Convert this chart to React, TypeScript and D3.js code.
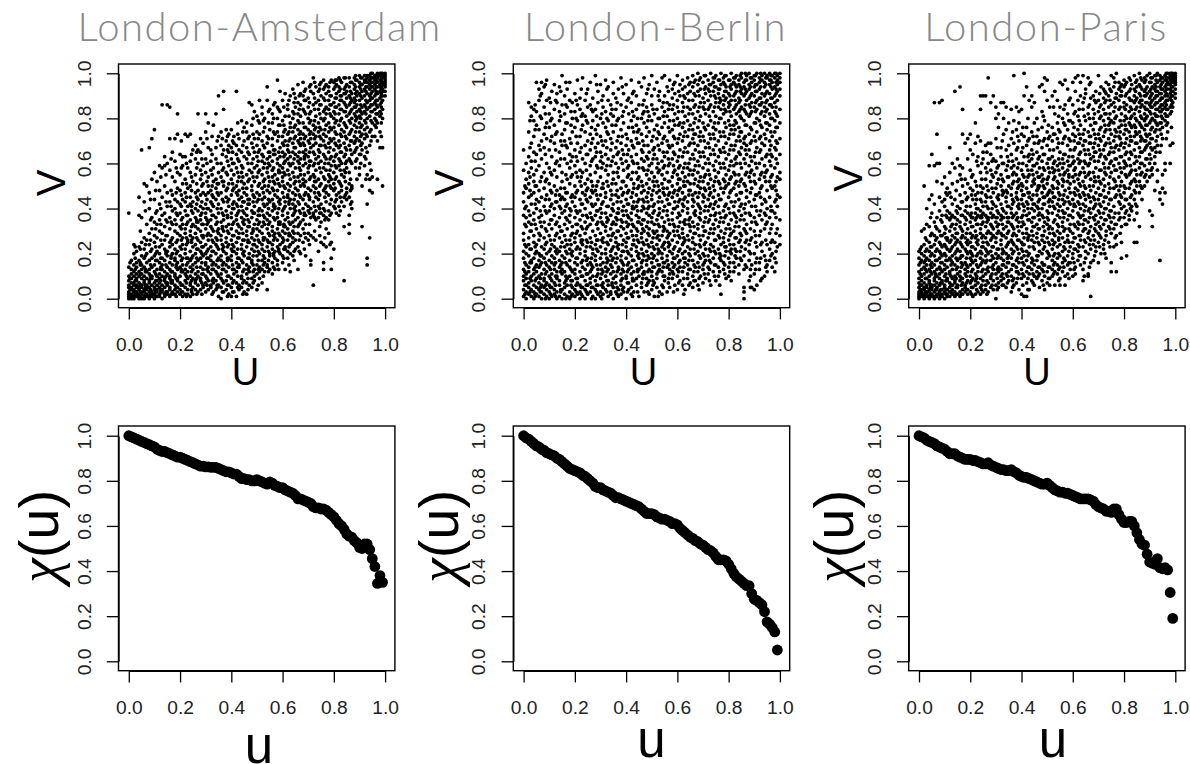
import * as React from 'react'
import * as d3 from 'd3'

const titles = ['London-Amsterdam', 'London-Berlin', 'London-Paris']
const tickValues = [0, 0.2, 0.4, 0.6, 0.8, 1]

// scatter points read by eye, column by column: [u in %, [v in %...]]
const amsterdamColumns: [number, number[]][] = [
  [0, [0, 1, 2, 3, 5, 6, 8, 10, 14, 38]], [1, [0, 1, 2, 4, 5, 7, 9, 11, 13, 17]],
  [2, [0, 1, 3, 4, 6, 7, 10, 12, 15, 20, 24]], [3, [1, 2, 3, 5, 6, 8, 9, 11, 14, 16, 21]],
  [4, [0, 1, 2, 4, 5, 7, 10, 12, 17, 23, 37, 45]], [5, [0, 2, 3, 5, 6, 9, 11, 13, 15, 19, 25, 36, 66]],
  [6, [0, 1, 3, 4, 7, 8, 10, 14, 18, 22, 27, 43, 51]], [7, [1, 2, 4, 5, 6, 9, 12, 16, 20, 26, 33, 50]],
  [8, [0, 1, 3, 5, 7, 8, 11, 13, 17, 24, 29, 40, 47, 67]], [9, [1, 2, 3, 6, 9, 10, 14, 18, 22, 31, 36, 53, 71]],
  [10, [0, 2, 4, 5, 7, 12, 15, 19, 25, 28, 34, 44, 56, 75]], [11, [1, 3, 4, 6, 8, 10, 13, 17, 21, 27, 33, 39, 52]],
  [12, [1, 2, 5, 7, 9, 11, 16, 20, 23, 30, 35, 42, 48, 59]], [13, [0, 3, 4, 6, 10, 13, 15, 18, 24, 29, 37, 45, 58, 86]],
  [14, [1, 2, 5, 8, 9, 12, 17, 22, 26, 32, 38, 50, 59, 63]], [15, [2, 3, 6, 7, 11, 14, 19, 21, 28, 34, 41, 47, 60, 86]],
  [16, [1, 4, 5, 9, 10, 13, 16, 23, 25, 31, 36, 43, 57, 71, 85]], [17, [2, 3, 7, 8, 12, 15, 20, 24, 27, 33, 39, 46, 54, 65]],
  [18, [2, 4, 6, 10, 11, 17, 18, 22, 30, 35, 40, 44, 52, 61, 71]], [19, [3, 5, 8, 9, 13, 16, 21, 26, 29, 37, 43, 49, 56, 73, 82]],
  [20, [2, 4, 7, 10, 14, 19, 23, 28, 32, 38, 42, 48, 55, 64]], [21, [1, 3, 6, 12, 15, 18, 24, 27, 33, 36, 44, 51, 59, 63]],
  [22, [2, 5, 8, 11, 13, 20, 22, 29, 31, 39, 43, 47, 53, 63, 73]], [23, [2, 4, 9, 12, 16, 18, 25, 26, 34, 37, 41, 49, 58, 72]],
  [24, [1, 6, 7, 10, 14, 17, 21, 28, 30, 35, 42, 45, 50, 56, 61, 73]], [25, [2, 5, 9, 13, 15, 19, 23, 27, 33, 38, 43, 52, 66]],
  [26, [4, 7, 8, 11, 16, 20, 24, 29, 32, 36, 40, 47, 55, 62, 68]], [27, [3, 6, 10, 12, 17, 22, 26, 31, 34, 39, 44, 48, 60, 66, 82]],
  [28, [4, 8, 9, 14, 18, 21, 25, 30, 35, 37, 41, 46, 53, 57, 65, 71]], [29, [5, 6, 11, 13, 19, 23, 27, 28, 33, 40, 47, 51, 59, 69]],
  [30, [3, 7, 10, 15, 16, 20, 24, 31, 36, 38, 42, 46, 56, 62, 74, 82]], [31, [4, 8, 12, 14, 18, 22, 26, 29, 34, 40, 47, 50, 54, 67, 78]],
  [32, [5, 6, 11, 17, 19, 23, 28, 32, 35, 39, 43, 48, 57, 61, 66]], [33, [3, 7, 9, 13, 16, 21, 25, 30, 37, 41, 45, 52, 58, 77]],
  [34, [4, 8, 12, 15, 20, 24, 27, 33, 36, 44, 49, 53, 62, 67, 82]], [35, [1, 6, 10, 14, 18, 22, 29, 31, 38, 42, 46, 51, 56, 72, 90]],
  [36, [0, 5, 9, 11, 17, 19, 26, 28, 34, 40, 47, 54, 60, 68, 74]], [37, [3, 7, 13, 16, 21, 23, 30, 35, 37, 43, 50, 52, 58, 66, 84, 92]],
  [38, [4, 8, 12, 15, 20, 25, 27, 32, 39, 45, 48, 56, 63, 70, 75]], [39, [2, 6, 10, 14, 18, 24, 29, 33, 41, 44, 51, 59, 65, 68, 73]],
  [40, [1, 5, 9, 17, 19, 22, 26, 31, 36, 38, 46, 53, 57, 62, 67, 75]], [41, [3, 8, 11, 13, 21, 23, 28, 34, 40, 43, 49, 55, 60, 69, 72]],
  [42, [1, 7, 12, 16, 20, 25, 30, 35, 37, 42, 47, 50, 58, 64, 68, 92]], [43, [4, 6, 14, 15, 18, 27, 29, 32, 39, 44, 48, 54, 61, 66, 71]],
  [44, [5, 9, 10, 17, 22, 24, 31, 36, 41, 45, 52, 56, 59, 65, 79]], [45, [3, 8, 13, 19, 21, 26, 33, 35, 38, 43, 47, 51, 63, 70, 76]],
  [46, [2, 7, 11, 15, 23, 28, 30, 37, 40, 46, 49, 55, 62, 67, 74, 78]], [47, [6, 12, 14, 18, 20, 25, 32, 34, 42, 44, 53, 57, 64, 72, 87]],
  [48, [5, 9, 16, 17, 22, 27, 29, 36, 39, 48, 50, 56, 60, 69, 77, 86]], [49, [8, 10, 13, 21, 24, 26, 33, 38, 41, 45, 52, 58, 65, 71, 83]],
  [50, [4, 11, 15, 19, 23, 28, 31, 35, 43, 47, 54, 59, 63, 68, 74, 81]], [51, [9, 12, 14, 20, 25, 30, 34, 37, 40, 46, 51, 57, 66, 73, 78, 88]],
  [52, [7, 13, 17, 22, 24, 29, 32, 39, 44, 49, 55, 61, 64, 70, 82, 85]], [53, [12, 16, 18, 21, 27, 33, 36, 41, 45, 50, 53, 60, 67, 76, 80]],
  [54, [4, 14, 15, 23, 26, 31, 35, 38, 42, 48, 56, 58, 62, 69, 72, 88, 94]], [55, [13, 19, 20, 25, 28, 34, 37, 43, 47, 52, 59, 63, 65, 75, 84]],
  [56, [11, 16, 22, 24, 30, 32, 39, 44, 49, 54, 57, 61, 68, 71, 78, 82]], [57, [13, 18, 21, 27, 29, 35, 40, 41, 46, 51, 55, 64, 66, 73, 87]],
  [58, [15, 17, 23, 26, 31, 36, 38, 45, 48, 53, 60, 62, 70, 74, 80, 85, 97]], [59, [20, 24, 28, 33, 34, 42, 44, 50, 56, 59, 63, 67, 77, 83, 92]],
  [60, [16, 19, 25, 27, 30, 37, 39, 47, 52, 54, 58, 65, 69, 72, 79, 88]], [61, [13, 22, 23, 29, 32, 35, 41, 43, 49, 55, 61, 64, 70, 75, 81, 91]],
  [62, [18, 21, 26, 31, 36, 38, 45, 46, 51, 57, 62, 66, 68, 73, 84, 86]], [63, [12, 20, 24, 28, 33, 40, 44, 50, 53, 59, 63, 71, 76, 78, 90]],
  [64, [19, 25, 27, 30, 34, 37, 42, 47, 56, 60, 65, 69, 74, 80, 83, 93]], [65, [22, 26, 35, 39, 41, 46, 49, 52, 58, 64, 67, 72, 77, 85, 89]],
  [66, [13, 23, 29, 32, 36, 43, 48, 54, 61, 63, 70, 75, 79, 82, 87, 95]], [67, [20, 28, 34, 38, 45, 50, 55, 57, 62, 68, 71, 74, 81, 86, 91]],
  [68, [25, 31, 35, 40, 44, 51, 53, 59, 65, 69, 73, 78, 84, 90, 96]], [69, [19, 27, 33, 37, 42, 47, 52, 60, 64, 66, 72, 76, 82, 88, 93]],
  [70, [26, 29, 39, 41, 46, 49, 56, 58, 63, 70, 75, 80, 85, 89]], [71, [15, 17, 28, 36, 40, 48, 54, 61, 67, 71, 74, 79, 83, 92, 95]],
  [72, [6, 27, 37, 38, 43, 50, 55, 59, 65, 68, 73, 77, 86, 91, 98]], [73, [26, 35, 39, 45, 49, 52, 57, 62, 69, 72, 76, 81, 87, 94]],
  [74, [21, 36, 41, 44, 47, 53, 60, 63, 66, 74, 78, 84, 88, 92]], [75, [25, 34, 38, 42, 51, 56, 61, 68, 71, 75, 80, 86, 90, 96]],
  [76, [13, 16, 24, 37, 40, 48, 54, 58, 64, 70, 73, 79, 83, 89, 93, 97]], [77, [23, 31, 36, 43, 47, 50, 57, 62, 67, 72, 77, 82, 85, 91, 95]],
  [78, [29, 35, 39, 46, 52, 55, 60, 65, 69, 74, 78, 84, 88, 92, 94]], [79, [13, 18, 25, 38, 44, 49, 53, 59, 63, 70, 75, 81, 86, 90, 97]],
  [80, [22, 41, 48, 51, 56, 61, 66, 71, 76, 80, 83, 87, 93, 96]], [81, [38, 44, 46, 54, 58, 64, 68, 73, 79, 85, 89, 91, 95, 97]],
  [82, [37, 41, 47, 52, 59, 62, 67, 70, 77, 82, 86, 92, 94, 98]], [83, [43, 48, 50, 55, 60, 65, 72, 75, 80, 84, 88, 90, 96]],
  [84, [8, 32, 41, 45, 54, 57, 63, 69, 74, 78, 83, 87, 91, 93, 98]], [85, [44, 47, 49, 58, 61, 66, 71, 76, 81, 85, 89, 92, 95]],
  [86, [29, 33, 37, 45, 51, 56, 62, 68, 73, 79, 82, 86, 90, 94, 98]], [87, [40, 43, 49, 50, 60, 64, 70, 75, 80, 84, 88, 91, 96]],
  [88, [65, 69, 72, 77, 82, 85, 87, 89, 93, 95, 98]], [89, [53, 62, 67, 71, 76, 80, 83, 86, 90, 92, 97]],
  [90, [55, 58, 64, 70, 74, 78, 81, 84, 88, 91, 94, 96, 99]], [91, [32, 50, 66, 69, 73, 77, 82, 85, 89, 92, 95, 98]],
  [92, [59, 63, 71, 75, 79, 83, 86, 90, 93, 96, 97, 99]], [93, [15, 18, 42, 55, 65, 72, 76, 80, 84, 87, 91, 94, 96, 98, 99]],
  [94, [27, 48, 53, 60, 68, 74, 81, 85, 88, 90, 93, 95, 97, 99]], [95, [47, 54, 72, 78, 83, 86, 89, 92, 94, 96, 98, 100]],
  [96, [72, 77, 80, 84, 87, 90, 93, 95, 97, 98, 99]], [97, [53, 70, 78, 82, 85, 88, 91, 94, 96, 98, 99, 100]],
  [98, [67, 74, 81, 83, 86, 89, 92, 94, 95, 97, 99, 100]], [99, [50, 67, 80, 84, 88, 90, 92, 93, 95, 96, 98, 99, 100]],
  [100, [90, 92, 94, 95, 96, 97, 98, 99, 100]],
]

// second pass over the same panel, filling the gaps between the columns above
const amsterdamExtra: [number, number[]][] = [
  [0.5, [1, 4, 9, 16]], [2.5, [2, 3, 8, 13, 18, 23]], [4.5, [1, 3, 6, 11, 15, 16, 22, 30]], [6.5, [2, 5, 6, 12, 13, 19, 24, 39]],
  [8.5, [2, 4, 9, 10, 15, 21, 26, 35, 44]], [10.5, [1, 3, 8, 11, 17, 20, 23, 31, 38, 48]], [12.5, [3, 4, 8, 13, 14, 18, 26, 33, 40, 54]],
  [14.5, [3, 7, 10, 15, 20, 21, 28, 35, 43, 55]], [16.5, [2, 7, 8, 12, 18, 19, 26, 34, 41, 48, 62]], [18.5, [1, 5, 9, 14, 15, 20, 25, 33, 38, 47, 58]],
  [20.5, [3, 6, 12, 13, 17, 22, 26, 31, 35, 41, 46, 58, 70]], [22.5, [1, 7, 10, 15, 18, 24, 27, 33, 37, 45, 51, 60]], [24.5, [3, 4, 8, 12, 18, 25, 26, 32, 39, 41, 48, 54, 64]],
  [26.5, [2, 9, 14, 18, 22, 27, 34, 35, 42, 45, 51, 58, 65]], [28.5, [2, 7, 11, 16, 20, 23, 28, 33, 38, 43, 50, 55, 62]], [30.5, [6, 9, 13, 18, 21, 28, 33, 35, 40, 44, 52, 60, 71]],
  [32.5, [2, 8, 13, 15, 21, 26, 31, 37, 42, 46, 50, 55, 64, 72]], [34.5, [5, 6, 11, 17, 23, 26, 30, 34, 40, 47, 51, 60, 70]], [36.5, [3, 8, 13, 15, 22, 24, 31, 32, 38, 44, 52, 57, 64, 71]],
  [38.5, [1, 6, 10, 17, 18, 23, 30, 36, 37, 43, 49, 55, 61, 66, 72]], [40.5, [3, 7, 13, 15, 21, 24, 28, 33, 40, 42, 48, 51, 60, 65, 70]], [42.5, [5, 10, 14, 18, 22, 27, 33, 38, 41, 46, 52, 56, 62, 73, 78]],
  [44.5, [2, 7, 12, 16, 20, 26, 29, 34, 39, 43, 49, 54, 58, 68, 74]], [46.5, [4, 9, 13, 18, 25, 26, 32, 35, 42, 44, 52, 60, 65, 71]], [48.5, [7, 12, 15, 19, 24, 30, 31, 38, 43, 46, 54, 62, 67, 73, 80]],
  [50.5, [6, 13, 17, 21, 26, 33, 37, 39, 44, 50, 56, 61, 65, 71, 79]], [52.5, [10, 15, 19, 26, 27, 34, 37, 42, 47, 52, 58, 63, 68, 74, 79]], [54.5, [12, 17, 21, 25, 29, 33, 40, 44, 50, 54, 60, 65, 71, 78, 83]],
  [56.5, [14, 19, 20, 26, 28, 36, 41, 42, 48, 52, 58, 64, 66, 74, 80, 86]], [58.5, [13, 21, 22, 29, 33, 34, 40, 43, 51, 56, 57, 65, 72, 77, 84]], [60.5, [18, 22, 26, 32, 33, 40, 45, 50, 56, 60, 63, 68, 74, 77, 85]],
  [62.5, [15, 23, 28, 29, 34, 42, 43, 48, 55, 60, 65, 70, 74, 81, 88]], [64.5, [17, 21, 29, 32, 38, 40, 44, 51, 54, 62, 67, 71, 76, 82, 87, 91]], [66.5, [21, 26, 33, 39, 42, 46, 52, 58, 60, 65, 69, 73, 78, 84, 90]],
  [68.5, [22, 29, 37, 38, 46, 50, 55, 62, 63, 68, 71, 76, 83, 88, 92]], [70.5, [24, 33, 38, 44, 45, 53, 59, 61, 65, 69, 73, 78, 82, 87, 94]], [72.5, [30, 36, 41, 47, 52, 54, 60, 64, 71, 75, 79, 84, 89, 96]],
  [74.5, [28, 32, 38, 40, 46, 50, 58, 65, 68, 72, 76, 82, 86, 93, 95]], [76.5, [27, 35, 39, 45, 49, 53, 60, 63, 68, 75, 80, 84, 88, 94]], [78.5, [24, 37, 42, 50, 54, 57, 62, 67, 71, 76, 82, 86, 90, 96]],
  [80.5, [40, 43, 49, 53, 59, 63, 69, 74, 78, 82, 85, 89, 94, 97]], [82.5, [39, 45, 51, 57, 61, 65, 68, 73, 79, 84, 88, 90, 93, 97]], [84.5, [46, 52, 56, 60, 64, 67, 72, 77, 83, 86, 91, 94, 98]],
  [86.5, [42, 48, 53, 61, 66, 70, 74, 78, 83, 87, 89, 92, 96]], [88.5, [58, 61, 66, 70, 74, 79, 81, 85, 88, 91, 94, 97, 99]], [90.5, [60, 64, 68, 72, 76, 80, 83, 86, 90, 93, 95, 98]],
  [92.5, [53, 62, 67, 73, 78, 82, 85, 88, 92, 94, 97, 99]], [94.5, [57, 70, 75, 79, 83, 86, 89, 91, 94, 96, 98, 100]], [96.5, [76, 79, 82, 86, 88, 91, 92, 94, 96, 97, 99]],
  [98.5, [72, 78, 82, 85, 87, 90, 91, 93, 94, 96, 97, 98, 100]],
]

const berlinColumns: [number, number[]][] = [
  [0, [1, 4, 8, 10, 13, 18, 21, 26, 29, 37, 43, 47, 57, 66]], [1, [0, 3, 6, 9, 11, 15, 20, 23, 32, 36, 41, 49, 53, 60]],
  [2, [2, 5, 7, 12, 14, 19, 24, 27, 34, 39, 45, 51, 56, 63, 74, 87]], [3, [1, 4, 8, 10, 16, 17, 22, 30, 33, 42, 46, 58, 61, 69, 81, 85]],
  [4, [0, 3, 6, 11, 13, 18, 25, 28, 35, 38, 47, 52, 55, 65, 72, 79, 84]], [5, [2, 5, 9, 12, 15, 21, 24, 31, 40, 44, 50, 57, 64, 77, 83, 96]],
  [6, [1, 4, 7, 10, 14, 17, 20, 26, 29, 36, 43, 48, 59, 68, 75, 88, 93]], [7, [0, 3, 6, 11, 16, 19, 23, 32, 37, 45, 54, 62, 70, 80, 91, 96]],
  [8, [2, 5, 8, 9, 13, 18, 22, 27, 34, 41, 49, 56, 67, 73, 85, 94]], [9, [1, 4, 7, 12, 15, 20, 25, 30, 38, 46, 53, 60, 71, 78, 88, 97]],
  [10, [0, 3, 6, 10, 14, 17, 21, 28, 33, 39, 44, 51, 58, 66, 76, 82, 89]], [11, [1, 5, 8, 11, 16, 19, 24, 31, 35, 42, 47, 55, 63, 72, 80, 92]],
  [12, [2, 4, 7, 13, 15, 18, 23, 26, 37, 40, 50, 57, 69, 77, 84, 95]], [13, [0, 3, 9, 10, 12, 20, 22, 29, 34, 43, 48, 54, 61, 74, 87, 91]],
  [14, [1, 6, 8, 14, 17, 21, 27, 32, 36, 41, 46, 59, 65, 79, 83, 94]], [15, [0, 4, 11, 13, 16, 19, 25, 30, 38, 45, 52, 56, 68, 73, 86, 99]],
  [16, [2, 5, 7, 12, 18, 23, 28, 33, 39, 44, 49, 62, 70, 75, 82, 90]], [17, [1, 6, 9, 15, 20, 24, 31, 35, 42, 47, 53, 60, 67, 78, 85, 93]],
  [18, [0, 3, 10, 14, 17, 22, 26, 34, 37, 40, 51, 58, 64, 71, 88, 96]], [19, [2, 5, 8, 12, 19, 21, 29, 32, 43, 46, 55, 63, 74, 80, 87]],
  [20, [1, 4, 11, 13, 16, 25, 27, 36, 41, 45, 50, 59, 66, 76, 83, 91]], [21, [2, 7, 9, 15, 18, 23, 30, 33, 38, 48, 54, 61, 69, 79, 86, 97]],
  [22, [0, 3, 6, 12, 20, 22, 28, 35, 39, 44, 52, 57, 65, 72, 84, 89]], [23, [1, 5, 10, 14, 17, 24, 26, 31, 37, 42, 47, 56, 62, 77, 82, 98]],
  [24, [0, 4, 8, 13, 19, 21, 29, 34, 40, 46, 51, 60, 68, 74, 81, 88]], [25, [2, 6, 11, 15, 18, 25, 32, 36, 43, 49, 53, 64, 70, 78, 85, 93]],
  [26, [3, 7, 9, 12, 16, 23, 27, 33, 38, 45, 55, 59, 66, 73, 86, 96]], [27, [1, 5, 10, 14, 20, 22, 30, 35, 41, 47, 50, 62, 71, 79, 83, 89]],
  [28, [0, 4, 8, 17, 19, 24, 28, 37, 42, 48, 56, 63, 67, 75, 84, 99]], [29, [2, 6, 11, 13, 21, 26, 31, 34, 39, 44, 52, 58, 69, 77, 87, 92]],
  [30, [1, 3, 9, 15, 18, 23, 29, 36, 40, 46, 54, 61, 65, 72, 80, 95]], [31, [2, 5, 7, 12, 16, 25, 27, 33, 43, 49, 51, 60, 68, 78, 85, 90]],
  [32, [4, 10, 14, 20, 22, 30, 32, 38, 45, 47, 57, 64, 70, 76, 83, 97]], [33, [1, 6, 8, 13, 17, 24, 28, 35, 41, 50, 55, 62, 73, 79, 88, 94]],
  [34, [2, 3, 11, 15, 19, 21, 26, 31, 37, 44, 48, 59, 66, 71, 82, 86]], [35, [0, 5, 9, 12, 18, 23, 29, 34, 39, 42, 53, 56, 63, 74, 81, 91, 96]],
  [36, [3, 7, 10, 16, 20, 25, 27, 33, 36, 46, 51, 60, 67, 77, 84, 89]], [37, [1, 4, 13, 14, 22, 24, 30, 38, 40, 45, 54, 58, 65, 72, 80, 93]],
  [38, [2, 6, 8, 11, 17, 19, 28, 32, 35, 43, 49, 62, 69, 75, 86, 98]], [39, [3, 5, 12, 15, 21, 26, 31, 37, 41, 47, 52, 57, 64, 78, 83, 91]],
  [40, [0, 9, 10, 18, 23, 25, 29, 34, 39, 44, 50, 61, 68, 73, 85, 95]], [41, [4, 7, 13, 16, 20, 27, 33, 36, 42, 48, 55, 59, 66, 76, 82, 89]],
  [42, [2, 5, 11, 14, 19, 22, 30, 35, 38, 45, 53, 63, 70, 79, 87, 97]], [43, [3, 8, 12, 17, 24, 26, 32, 40, 43, 49, 51, 60, 67, 74, 81, 92]],
  [44, [6, 9, 15, 21, 23, 28, 31, 37, 41, 46, 56, 64, 71, 77, 84, 90]], [45, [1, 10, 13, 18, 20, 25, 34, 36, 44, 50, 54, 58, 69, 75, 86, 96]],
  [46, [5, 7, 14, 16, 22, 27, 29, 33, 39, 47, 52, 62, 66, 73, 80, 94]], [47, [3, 11, 12, 19, 24, 30, 35, 40, 43, 48, 57, 61, 68, 78, 83, 88, 98]],
  [48, [6, 9, 15, 17, 21, 26, 32, 38, 45, 51, 55, 63, 72, 76, 85, 91]], [49, [2, 8, 13, 18, 23, 28, 31, 37, 41, 49, 53, 59, 65, 74, 81, 95]],
  [50, [4, 10, 12, 16, 20, 25, 34, 36, 44, 46, 56, 60, 70, 79, 86, 90, 99]], [51, [1, 7, 14, 19, 22, 29, 33, 39, 42, 50, 54, 64, 67, 75, 82, 93]],
  [52, [5, 9, 11, 17, 24, 27, 30, 35, 47, 52, 58, 62, 71, 77, 84, 96]], [53, [3, 13, 15, 21, 26, 32, 38, 40, 45, 48, 57, 66, 73, 80, 88, 92]],
  [54, [2, 6, 12, 18, 20, 23, 28, 36, 43, 51, 55, 61, 69, 76, 85, 98]], [55, [8, 10, 16, 22, 25, 31, 34, 41, 46, 53, 59, 63, 72, 78, 83, 90, 99]],
  [56, [3, 14, 17, 19, 27, 30, 37, 39, 44, 49, 56, 65, 70, 81, 87, 94]], [57, [5, 11, 13, 21, 24, 29, 33, 42, 47, 52, 60, 67, 74, 79, 86, 97]],
  [58, [9, 12, 16, 20, 26, 35, 38, 45, 50, 54, 62, 68, 75, 84, 89, 93]], [59, [6, 15, 18, 23, 28, 32, 40, 43, 48, 57, 64, 71, 77, 82, 91, 96]],
  [60, [4, 10, 13, 19, 25, 30, 36, 41, 46, 51, 55, 61, 69, 80, 85, 88, 99]], [61, [8, 14, 17, 22, 27, 34, 37, 44, 49, 53, 59, 66, 73, 78, 90, 95]],
  [62, [6, 12, 20, 24, 29, 31, 39, 42, 47, 56, 63, 70, 76, 83, 87, 93, 97]], [63, [4, 16, 18, 21, 26, 33, 35, 45, 50, 54, 60, 67, 74, 81, 89, 94]],
  [64, [9, 11, 15, 23, 28, 38, 40, 43, 52, 58, 65, 72, 79, 85, 91, 98]], [65, [7, 13, 19, 22, 30, 32, 36, 48, 51, 57, 62, 69, 77, 84, 92, 96]],
  [66, [5, 10, 17, 25, 27, 34, 41, 44, 46, 55, 64, 71, 75, 82, 88, 94, 99]], [67, [8, 14, 20, 24, 29, 37, 39, 47, 53, 59, 66, 73, 80, 86, 90, 97]],
  [68, [6, 12, 16, 21, 31, 33, 42, 45, 50, 56, 61, 68, 76, 83, 92, 95, 100]], [69, [10, 18, 23, 26, 35, 38, 40, 49, 54, 63, 70, 74, 81, 87, 93, 98]],
  [70, [7, 13, 15, 20, 28, 32, 43, 46, 52, 58, 65, 72, 78, 85, 89, 96]], [71, [9, 17, 22, 25, 30, 36, 41, 48, 55, 60, 67, 75, 82, 91, 94, 99]],
  [72, [11, 14, 19, 27, 34, 39, 44, 51, 57, 62, 69, 77, 84, 88, 93, 97]], [73, [6, 16, 21, 24, 31, 37, 42, 47, 53, 64, 71, 79, 86, 90, 95, 100]],
  [74, [12, 18, 23, 29, 33, 40, 45, 50, 59, 66, 73, 76, 83, 92, 96, 98]], [75, [8, 15, 20, 26, 35, 38, 43, 54, 61, 68, 75, 81, 87, 89, 94, 99]],
  [76, [10, 14, 22, 28, 32, 41, 46, 52, 56, 63, 70, 78, 85, 91, 93, 97]], [77, [2, 17, 19, 24, 30, 36, 44, 49, 58, 65, 72, 80, 84, 88, 95, 100]],
  [78, [13, 16, 25, 27, 34, 39, 47, 53, 60, 67, 74, 82, 86, 90, 96, 98]], [79, [9, 21, 23, 31, 37, 42, 50, 55, 62, 69, 76, 83, 89, 92, 94, 99]],
  [80, [10, 14, 18, 26, 33, 40, 45, 51, 57, 64, 71, 79, 85, 87, 91, 97]], [81, [8, 20, 22, 29, 35, 43, 48, 54, 61, 68, 75, 81, 88, 93, 95, 100]],
  [82, [12, 16, 24, 30, 38, 41, 49, 56, 59, 66, 73, 77, 84, 90, 96, 98]], [83, [18, 21, 27, 34, 36, 46, 52, 60, 63, 70, 78, 82, 86, 92, 94, 99]],
  [84, [11, 15, 25, 32, 39, 44, 50, 55, 65, 72, 76, 83, 87, 89, 95, 97]], [85, [17, 23, 28, 37, 42, 47, 53, 58, 67, 74, 80, 85, 91, 93, 98, 100]],
  [86, [0, 3, 5, 13, 19, 31, 35, 40, 51, 62, 69, 71, 79, 84, 90, 94, 96]], [87, [14, 26, 29, 33, 45, 48, 56, 64, 68, 77, 82, 88, 92, 97, 99]],
  [88, [8, 17, 21, 24, 38, 43, 54, 59, 66, 73, 81, 86, 89, 93, 95, 100]], [89, [5, 15, 27, 34, 41, 49, 57, 61, 70, 75, 83, 87, 91, 96, 98]],
  [90, [4, 11, 20, 30, 36, 44, 52, 55, 63, 72, 78, 85, 90, 94, 97, 99]], [91, [6, 18, 23, 33, 39, 46, 58, 67, 74, 80, 84, 88, 92, 95, 100]],
  [92, [13, 16, 28, 37, 47, 53, 60, 65, 71, 79, 86, 89, 93, 96, 98]], [93, [9, 21, 25, 35, 42, 50, 56, 62, 69, 76, 83, 87, 91, 97, 99]],
  [94, [10, 19, 31, 38, 44, 54, 59, 68, 73, 81, 85, 90, 94, 96, 100]], [95, [12, 15, 24, 34, 40, 48, 57, 64, 75, 78, 84, 88, 92, 98, 99]],
  [96, [17, 22, 29, 36, 45, 52, 61, 66, 70, 77, 82, 86, 91, 95, 97, 100]], [97, [14, 20, 26, 33, 39, 49, 55, 63, 72, 80, 85, 89, 93, 96, 99]],
  [98, [12, 18, 25, 38, 43, 50, 58, 67, 74, 79, 83, 87, 90, 94, 98, 100]], [99, [23, 31, 41, 46, 54, 60, 69, 76, 81, 88, 92, 95, 97, 99]],
  [100, [24, 28, 35, 45, 53, 56, 64, 71, 78, 84, 90, 93, 96, 98, 100]],
]

const berlinExtra: [number, number[]][] = [
  [0.5, [2, 6, 12, 16, 24, 33, 40, 50]], [2.5, [3, 9, 16, 22, 30, 37, 48, 54, 67, 79]], [4.5, [1, 2, 8, 14, 20, 23, 33, 42, 50, 61, 75, 86]],
  [6.5, [3, 5, 9, 15, 19, 28, 34, 39, 52, 66, 81, 90]], [8.5, [0, 6, 11, 16, 24, 31, 39, 44, 52, 64, 76, 82, 95]], [10.5, [2, 5, 9, 13, 22, 26, 35, 41, 48, 56, 70, 79, 87]],
  [12.5, [1, 6, 10, 16, 21, 28, 33, 43, 46, 60, 66, 73, 88]], [14.5, [3, 4, 12, 15, 23, 30, 40, 44, 49, 62, 70, 81, 92]], [16.5, [0, 8, 10, 16, 21, 26, 36, 41, 47, 55, 68, 78, 86, 96]],
  [18.5, [1, 6, 8, 13, 20, 24, 28, 39, 45, 54, 61, 69, 77, 83]], [20.5, [3, 6, 9, 18, 22, 29, 33, 39, 47, 56, 63, 72, 80, 88]], [22.5, [2, 5, 10, 16, 25, 26, 32, 42, 50, 54, 67, 75, 81, 93]],
  [24.5, [3, 6, 11, 17, 23, 26, 31, 37, 44, 48, 57, 64, 79, 91]], [26.5, [0, 5, 13, 15, 18, 25, 36, 42, 48, 52, 61, 69, 76, 84]], [28.5, [3, 6, 10, 15, 22, 26, 33, 39, 46, 50, 59, 65, 73, 81, 95]],
  [30.5, [0, 6, 11, 13, 20, 26, 34, 38, 42, 49, 58, 63, 70, 82, 88]], [32.5, [3, 8, 12, 16, 18, 25, 34, 36, 41, 52, 59, 67, 74, 80, 93]], [34.5, [6, 7, 14, 17, 22, 28, 33, 40, 46, 51, 61, 69, 77, 84]],
  [36.5, [2, 5, 12, 18, 23, 30, 35, 38, 43, 48, 56, 64, 70, 79, 87]], [38.5, [4, 9, 13, 16, 21, 24, 34, 39, 46, 52, 60, 66, 72, 81, 94]], [40.5, [3, 7, 12, 15, 21, 27, 32, 37, 42, 47, 54, 58, 64, 71, 88]],
  [42.5, [1, 8, 9, 17, 24, 28, 33, 40, 41, 47, 56, 61, 68, 76, 83, 91]], [44.5, [3, 12, 13, 19, 26, 30, 34, 39, 43, 49, 53, 60, 69, 74, 80]], [46.5, [9, 11, 17, 20, 25, 31, 35, 41, 44, 50, 58, 65, 70, 82, 86]],
  [48.5, [3, 7, 12, 19, 24, 29, 34, 40, 43, 47, 57, 62, 68, 79, 83, 93]], [50.5, [6, 8, 14, 18, 23, 27, 30, 38, 41, 48, 52, 62, 66, 72, 84]], [52.5, [1, 12, 15, 20, 22, 28, 33, 37, 43, 50, 56, 60, 68, 74, 80, 90]],
  [54.5, [5, 10, 14, 16, 24, 30, 32, 39, 47, 49, 58, 65, 71, 81, 87]], [56.5, [7, 9, 15, 23, 25, 28, 35, 42, 46, 52, 59, 62, 68, 76, 84, 92]], [58.5, [3, 11, 14, 18, 22, 30, 33, 40, 47, 56, 59, 65, 72, 79, 86, 95]],
  [60.5, [7, 12, 16, 21, 28, 32, 38, 43, 48, 53, 58, 63, 71, 77, 83, 92]], [62.5, [2, 9, 14, 18, 25, 27, 34, 41, 44, 50, 52, 58, 65, 72, 78, 85, 90]], [64.5, [6, 13, 17, 20, 26, 33, 35, 46, 48, 55, 60, 68, 75, 82, 88, 95]],
  [66.5, [8, 12, 15, 22, 29, 32, 38, 43, 51, 57, 62, 69, 73, 78, 85, 91, 96]], [68.5, [4, 9, 14, 19, 24, 28, 36, 41, 47, 52, 59, 65, 72, 79, 85, 90, 97]], [70.5, [11, 16, 19, 24, 30, 34, 39, 45, 49, 54, 63, 70, 76, 84, 87, 93, 99]],
  [72.5, [8, 13, 17, 22, 29, 35, 41, 46, 49, 55, 60, 67, 73, 81, 85, 92, 95]], [74.5, [10, 15, 21, 26, 31, 37, 42, 48, 52, 57, 64, 71, 78, 85, 90, 94, 98]], [76.5, [6, 12, 18, 20, 27, 34, 38, 44, 51, 60, 66, 74, 80, 87, 89, 93, 97]],
  [78.5, [11, 15, 19, 23, 29, 36, 41, 49, 52, 58, 65, 72, 78, 84, 88, 92, 95, 99]], [80.5, [12, 16, 21, 24, 28, 31, 38, 47, 53, 59, 66, 73, 77, 83, 86, 90, 94, 97]], [82.5, [14, 19, 22, 27, 32, 37, 43, 51, 55, 62, 68, 75, 79, 85, 88, 91, 95, 98]],
  [84.5, [18, 21, 26, 29, 35, 41, 47, 52, 60, 64, 70, 74, 81, 84, 88, 92, 94, 99]], [86.5, [15, 22, 25, 30, 38, 42, 50, 55, 60, 66, 72, 77, 83, 86, 91, 93, 97, 100]], [88.5, [5, 10, 13, 20, 26, 31, 37, 47, 52, 56, 63, 69, 76, 82, 85, 90, 94, 98]],
  [90.5, [13, 16, 25, 28, 34, 41, 46, 51, 60, 65, 70, 78, 83, 87, 92, 95, 99]], [92.5, [8, 18, 24, 30, 39, 45, 49, 55, 66, 72, 77, 82, 86, 89, 94, 97, 100]], [94.5, [14, 17, 26, 33, 37, 43, 52, 56, 63, 71, 78, 83, 87, 91, 95, 98]],
  [96.5, [19, 25, 31, 39, 41, 50, 54, 59, 64, 68, 74, 80, 86, 89, 94, 97, 99]], [98.5, [16, 21, 29, 36, 44, 48, 52, 62, 66, 70, 76, 82, 85, 91, 93, 96, 100]],
]

const parisColumns: [number, number[]][] = [
  [0, [0, 1, 2, 3, 5, 7, 9, 12, 15, 18, 21]], [1, [1, 2, 3, 4, 6, 8, 10, 13, 17, 20, 23, 30]],
  [2, [0, 1, 2, 4, 5, 7, 11, 14, 16, 19, 24, 31, 50]], [3, [1, 2, 3, 5, 6, 9, 12, 15, 18, 22, 26, 33, 40]],
  [4, [0, 1, 3, 4, 7, 8, 10, 13, 17, 21, 25, 32, 44, 59]], [5, [1, 2, 4, 5, 6, 11, 14, 16, 20, 23, 29, 38, 46, 64]],
  [6, [0, 1, 3, 6, 8, 9, 12, 15, 19, 24, 28, 34, 42, 59, 87]], [7, [1, 2, 4, 5, 7, 10, 13, 17, 22, 27, 31, 36, 52, 60, 73]],
  [8, [0, 2, 3, 6, 9, 11, 14, 18, 21, 25, 30, 39, 45, 60, 87]], [9, [1, 2, 4, 7, 8, 12, 16, 19, 23, 28, 34, 37, 43, 51, 88]],
  [10, [0, 3, 5, 6, 10, 13, 15, 20, 24, 29, 32, 41, 44, 54]], [11, [1, 2, 4, 8, 9, 14, 17, 22, 26, 27, 36, 39, 46, 49]],
  [12, [1, 3, 5, 7, 11, 12, 18, 21, 25, 30, 35, 38, 47, 56, 67]], [13, [2, 4, 6, 9, 13, 16, 19, 23, 28, 33, 37, 42, 51, 60]],
  [14, [1, 3, 7, 8, 10, 15, 20, 24, 27, 31, 36, 44, 58, 92]], [15, [2, 5, 6, 11, 14, 17, 22, 26, 29, 35, 38, 41, 52, 62]],
  [16, [1, 3, 8, 10, 12, 18, 21, 25, 32, 34, 40, 46, 55, 59, 94]], [17, [2, 4, 7, 9, 15, 19, 23, 28, 30, 37, 43, 50, 58, 73, 84]],
  [18, [3, 5, 6, 11, 13, 16, 22, 27, 33, 36, 39, 47, 53, 69]], [19, [2, 4, 8, 12, 14, 20, 24, 26, 31, 38, 45, 51, 62, 71]],
  [20, [3, 7, 10, 15, 18, 21, 25, 29, 34, 37, 41, 49, 57, 66, 73]], [21, [1, 5, 9, 13, 16, 19, 23, 28, 32, 36, 44, 48, 55, 64]],
  [22, [2, 6, 8, 11, 17, 22, 27, 30, 35, 38, 42, 46, 52, 69, 78]], [23, [3, 7, 12, 14, 20, 24, 26, 33, 37, 40, 47, 59, 63, 72]],
  [24, [2, 5, 9, 15, 18, 21, 29, 31, 36, 39, 44, 50, 56, 70, 84, 90]], [25, [3, 8, 10, 13, 17, 23, 25, 28, 34, 38, 41, 49, 62, 65, 90]],
  [26, [4, 6, 11, 16, 19, 22, 27, 32, 37, 43, 46, 53, 58, 68, 90]], [27, [3, 7, 12, 14, 20, 24, 30, 35, 36, 40, 48, 60, 69, 98]],
  [28, [5, 9, 10, 17, 21, 26, 29, 33, 38, 45, 52, 57, 64, 69, 87]], [29, [4, 8, 13, 15, 18, 23, 28, 31, 37, 42, 47, 54, 62, 90]],
  [30, [0, 6, 11, 16, 20, 25, 27, 34, 36, 41, 49, 56, 61, 71, 80, 85]], [31, [5, 7, 12, 14, 19, 22, 30, 33, 38, 44, 46, 53, 59, 76, 82]],
  [32, [8, 10, 13, 18, 24, 26, 29, 35, 37, 42, 50, 55, 63, 67, 87]], [33, [6, 9, 15, 17, 21, 28, 31, 36, 39, 47, 52, 60, 73, 80, 87]],
  [34, [5, 11, 14, 20, 23, 27, 32, 38, 43, 45, 48, 57, 66, 75, 85]], [35, [8, 12, 16, 19, 25, 30, 34, 36, 41, 50, 54, 61, 68, 78]],
  [36, [3, 10, 13, 18, 22, 26, 33, 38, 40, 46, 49, 58, 64, 71, 84]], [37, [6, 9, 15, 21, 24, 29, 31, 37, 43, 52, 56, 59, 69, 79, 99]],
  [38, [7, 12, 14, 17, 23, 28, 35, 38, 45, 47, 55, 62, 66, 75, 85]], [39, [4, 11, 16, 20, 26, 30, 34, 40, 42, 50, 53, 60, 70, 78, 83]],
  [40, [2, 9, 13, 18, 22, 25, 32, 36, 44, 48, 51, 57, 65, 73, 84]], [41, [1, 10, 15, 19, 24, 27, 33, 39, 41, 46, 54, 63, 72, 90, 100]],
  [42, [1, 7, 12, 17, 21, 29, 31, 37, 43, 49, 52, 59, 68, 76, 94]], [43, [4, 11, 14, 20, 23, 28, 35, 38, 45, 47, 55, 61, 64, 71, 88]],
  [44, [8, 13, 16, 18, 26, 30, 34, 40, 44, 50, 57, 62, 66, 74, 85, 90]], [45, [6, 10, 15, 22, 25, 32, 36, 39, 42, 51, 53, 59, 69, 78, 87]],
  [46, [9, 12, 17, 19, 27, 29, 33, 41, 46, 48, 56, 60, 65, 72, 80]], [47, [5, 11, 14, 21, 24, 31, 35, 38, 44, 50, 54, 58, 63, 70, 94]],
  [48, [8, 13, 16, 20, 26, 28, 37, 40, 47, 52, 55, 61, 67, 76, 83, 95]], [49, [4, 10, 15, 23, 25, 30, 34, 42, 45, 49, 57, 64, 71, 79, 92, 98]],
  [50, [7, 12, 18, 21, 27, 33, 36, 39, 46, 51, 53, 60, 68, 74, 88, 97]], [51, [6, 9, 14, 19, 24, 29, 32, 41, 44, 48, 56, 62, 66, 72, 85]],
  [52, [10, 13, 17, 22, 26, 31, 38, 43, 47, 50, 58, 63, 70, 76, 90]], [53, [6, 12, 16, 20, 25, 28, 35, 40, 45, 54, 57, 61, 73, 82, 92]],
  [54, [11, 15, 18, 23, 30, 33, 37, 42, 49, 52, 59, 67, 71, 78, 88]], [55, [6, 9, 14, 19, 24, 29, 36, 41, 46, 55, 60, 65, 74, 85, 96]],
  [56, [12, 16, 21, 27, 32, 34, 39, 44, 50, 53, 58, 62, 69, 80, 95]], [57, [6, 10, 17, 22, 25, 31, 38, 43, 48, 56, 64, 72, 77, 86, 97]],
  [58, [11, 15, 19, 26, 28, 35, 40, 45, 52, 57, 61, 68, 75, 82, 93]], [59, [13, 16, 23, 30, 33, 37, 42, 47, 51, 59, 66, 70, 79, 89]],
  [60, [10, 18, 20, 25, 29, 36, 39, 44, 54, 60, 63, 73, 78, 86, 96]], [61, [11, 14, 22, 27, 32, 41, 46, 49, 55, 58, 67, 72, 83, 92, 98]],
  [62, [17, 21, 24, 31, 34, 38, 43, 48, 53, 62, 69, 75, 81, 88, 99]], [63, [15, 19, 26, 28, 36, 40, 45, 50, 56, 61, 65, 71, 77, 90, 96]],
  [64, [8, 13, 23, 30, 33, 37, 42, 47, 52, 58, 68, 73, 84, 87, 99]], [65, [18, 21, 25, 31, 35, 41, 44, 49, 54, 60, 64, 70, 79, 91, 93]],
  [66, [10, 11, 20, 27, 29, 34, 39, 46, 55, 59, 66, 74, 82, 85, 98]], [67, [1, 16, 22, 26, 32, 38, 43, 48, 53, 62, 69, 72, 77, 89, 96]],
  [68, [17, 24, 28, 36, 40, 45, 50, 56, 63, 67, 75, 80, 84, 90]], [69, [21, 23, 30, 33, 37, 42, 47, 52, 58, 65, 71, 78, 87, 92]],
  [70, [16, 25, 29, 34, 39, 44, 49, 54, 61, 68, 73, 83, 88, 99]], [71, [20, 27, 31, 36, 41, 46, 51, 57, 64, 70, 76, 81, 86, 94]],
  [72, [22, 24, 33, 38, 43, 48, 53, 60, 66, 72, 79, 84, 89, 93]], [73, [18, 28, 30, 35, 40, 45, 55, 62, 69, 75, 82, 88, 91, 96]],
  [74, [25, 32, 37, 42, 47, 51, 58, 64, 71, 77, 80, 85, 90, 95]], [75, [12, 16, 29, 34, 39, 44, 56, 61, 67, 73, 79, 86, 92, 99]],
  [76, [23, 31, 36, 41, 49, 53, 59, 65, 70, 78, 83, 87, 94, 98]], [77, [12, 24, 28, 33, 46, 50, 57, 62, 68, 74, 81, 89, 91, 100]],
  [78, [35, 38, 43, 48, 54, 60, 66, 72, 76, 84, 88, 93, 96]], [79, [18, 25, 32, 40, 45, 52, 56, 63, 69, 77, 82, 90, 92, 95]],
  [80, [36, 41, 47, 50, 58, 61, 67, 73, 79, 85, 87, 94, 97]], [81, [19, 33, 39, 44, 54, 59, 65, 71, 75, 80, 86, 91, 96]],
  [82, [35, 37, 42, 49, 55, 62, 68, 74, 78, 83, 89, 92, 98]], [83, [39, 41, 46, 52, 57, 64, 70, 76, 81, 84, 88, 95]],
  [84, [25, 35, 44, 48, 53, 60, 66, 72, 77, 82, 87, 90, 93, 99]], [85, [25, 38, 41, 50, 55, 61, 69, 73, 79, 85, 89, 94, 97]],
  [86, [32, 47, 52, 58, 63, 67, 74, 78, 83, 87, 91, 95, 100]], [87, [44, 49, 56, 60, 65, 71, 76, 80, 86, 88, 93, 97]],
  [88, [50, 54, 59, 66, 70, 75, 79, 82, 85, 90, 92, 96, 98]], [89, [52, 57, 62, 68, 72, 77, 81, 84, 87, 91, 94, 99]],
  [90, [39, 54, 60, 64, 69, 73, 78, 83, 86, 89, 92, 96, 100]], [91, [32, 37, 55, 58, 66, 71, 76, 80, 85, 88, 91, 94, 98]],
  [92, [48, 60, 63, 67, 74, 79, 82, 86, 89, 93, 95, 99]], [93, [52, 57, 68, 72, 77, 81, 84, 87, 90, 92, 96, 100]],
  [94, [17, 44, 47, 65, 75, 78, 83, 85, 88, 91, 94, 97, 99]], [95, [42, 49, 55, 71, 76, 80, 84, 86, 89, 93, 96, 98]],
  [96, [47, 57, 60, 79, 82, 85, 87, 90, 92, 94, 97, 99]], [97, [74, 78, 81, 84, 88, 90, 93, 95, 96, 98, 100]],
  [98, [60, 68, 82, 85, 89, 91, 93, 95, 97, 98, 99, 100]], [99, [69, 85, 87, 90, 92, 94, 96, 97, 98, 99, 100]],
  [100, [89, 91, 93, 95, 96, 97, 98, 99, 100]],
]

const parisExtra: [number, number[]][] = [
  [0.5, [1, 4, 6, 11, 16, 22]], [2.5, [1, 3, 9, 13, 17, 21, 27]], [4.5, [2, 5, 6, 12, 15, 19, 23, 28, 36]], [6.5, [1, 4, 10, 11, 17, 21, 26, 32]],
  [8.5, [1, 4, 7, 13, 16, 20, 24, 28, 35]], [10.5, [2, 4, 8, 11, 17, 19, 23, 27, 31, 37, 47]], [12.5, [3, 6, 10, 15, 17, 22, 26, 32, 36, 45]], [14.5, [2, 5, 9, 13, 18, 21, 25, 29, 33, 39, 48]],
  [16.5, [2, 6, 9, 14, 16, 19, 24, 27, 31, 37, 43, 53]], [18.5, [4, 7, 10, 15, 18, 21, 25, 29, 35, 41, 44]], [20.5, [2, 5, 8, 12, 17, 20, 23, 27, 32, 36, 38, 46, 54]], [22.5, [4, 9, 10, 15, 19, 25, 28, 33, 36, 40, 44, 50, 61]],
  [24.5, [4, 6, 12, 16, 20, 23, 27, 33, 36, 37, 43, 47, 53, 60]], [26.5, [2, 8, 13, 17, 21, 25, 29, 34, 36, 41, 45, 50, 56, 65]], [28.5, [6, 11, 14, 19, 23, 27, 32, 36, 40, 43, 49, 55, 61]], [30.5, [4, 9, 13, 18, 22, 29, 32, 36, 39, 45, 51, 58, 67]],
  [32.5, [6, 11, 15, 20, 22, 28, 33, 36, 40, 46, 48, 53, 60, 70]], [34.5, [7, 10, 16, 18, 24, 29, 34, 36, 41, 47, 54, 59, 63]], [36.5, [5, 8, 15, 20, 25, 28, 32, 36, 42, 44, 51, 55, 61, 74]], [38.5, [9, 12, 18, 22, 26, 32, 36, 41, 44, 49, 52, 58, 67, 72]],
  [40.5, [6, 11, 16, 21, 24, 29, 34, 37, 42, 46, 50, 55, 60, 67, 76]], [42.5, [4, 9, 14, 19, 26, 27, 35, 40, 42, 47, 54, 57, 63, 70, 80]], [44.5, [7, 11, 17, 23, 28, 32, 36, 42, 46, 52, 55, 59, 64, 72]], [46.5, [10, 14, 19, 25, 31, 37, 40, 43, 49, 50, 54, 62, 69, 75]],
  [48.5, [6, 12, 15, 22, 28, 32, 36, 42, 45, 50, 53, 58, 64, 70, 81]], [50.5, [9, 14, 20, 25, 31, 35, 38, 43, 47, 54, 58, 62, 71, 77]], [52.5, [11, 15, 19, 24, 29, 34, 41, 45, 49, 53, 56, 60, 66, 73, 85]], [54.5, [8, 13, 20, 26, 27, 32, 39, 44, 47, 51, 57, 62, 69, 75, 81]],
  [56.5, [14, 18, 23, 30, 36, 38, 42, 46, 52, 55, 60, 64, 71, 78, 84]], [58.5, [9, 16, 21, 25, 31, 37, 43, 49, 54, 55, 59, 63, 71, 79, 88]], [60.5, [13, 16, 22, 27, 33, 41, 42, 47, 52, 57, 61, 66, 70, 76, 82]], [62.5, [19, 23, 28, 33, 37, 42, 46, 51, 55, 60, 64, 69, 73, 79, 84]],
  [64.5, [10, 16, 26, 31, 35, 39, 46, 50, 56, 61, 66, 70, 75, 81, 89]], [66.5, [14, 24, 30, 36, 40, 45, 50, 56, 60, 64, 69, 72, 80, 86, 95]], [68.5, [19, 26, 31, 35, 41, 44, 52, 54, 61, 65, 69, 73, 78, 82, 88]], [70.5, [23, 28, 32, 38, 42, 46, 52, 57, 63, 66, 71, 75, 80, 85, 91]],
  [72.5, [20, 26, 35, 40, 45, 50, 56, 58, 63, 68, 74, 77, 82, 87, 92]], [74.5, [23, 31, 36, 39, 44, 49, 54, 60, 65, 69, 75, 78, 82, 88, 93]], [76.5, [27, 33, 38, 45, 52, 57, 62, 67, 72, 75, 80, 85, 89, 96]], [78.5, [29, 36, 42, 46, 50, 58, 63, 68, 71, 74, 79, 85, 90, 94]],
  [80.5, [33, 38, 44, 49, 55, 60, 64, 69, 75, 77, 81, 84, 90, 95]], [82.5, [40, 45, 51, 56, 59, 65, 70, 72, 77, 80, 85, 88, 93, 97]], [84.5, [42, 47, 52, 57, 63, 69, 74, 76, 80, 84, 88, 92, 96]], [86.5, [50, 55, 60, 65, 70, 72, 77, 81, 85, 88, 90, 94, 98]],
  [88.5, [55, 62, 67, 70, 73, 77, 80, 84, 87, 90, 93, 97]], [90.5, [57, 62, 67, 71, 75, 79, 82, 85, 87, 90, 93, 96, 98]], [92.5, [65, 70, 75, 78, 81, 84, 87, 90, 92, 94, 97, 99]], [94.5, [68, 73, 78, 81, 83, 86, 89, 91, 93, 95, 98]],
  [96.5, [71, 77, 81, 84, 86, 88, 91, 93, 95, 97, 98, 100]], [98.5, [76, 83, 86, 88, 90, 92, 94, 96, 97, 98, 99, 100]],
]

const chiU = [
  0, 0.01, 0.02, 0.03, 0.04, 0.05, 0.06, 0.07, 0.08, 0.09,
  0.1, 0.11, 0.12, 0.13, 0.14, 0.15, 0.16, 0.17, 0.18, 0.19,
  0.2, 0.21, 0.22, 0.23, 0.24, 0.25, 0.26, 0.27, 0.28, 0.29,
  0.3, 0.31, 0.32, 0.33, 0.34, 0.35, 0.36, 0.37, 0.38, 0.39,
  0.4, 0.41, 0.42, 0.43, 0.44, 0.45, 0.46, 0.47, 0.48, 0.49,
  0.5, 0.51, 0.52, 0.53, 0.54, 0.55, 0.56, 0.57, 0.58, 0.59,
  0.6, 0.61, 0.62, 0.63, 0.64, 0.65, 0.66, 0.67, 0.68, 0.69,
  0.7, 0.71, 0.72, 0.73, 0.74, 0.75, 0.76, 0.77, 0.78, 0.79,
  0.8, 0.81, 0.82, 0.83, 0.84, 0.85, 0.86, 0.87, 0.88, 0.89,
  0.9, 0.91, 0.92, 0.93, 0.94, 0.95, 0.96, 0.97, 0.98, 0.99,
]

const amsterdamChi = [
  1, 0.995, 0.99, 0.985, 0.98, 0.975, 0.97, 0.965, 0.96, 0.955,
  0.95, 0.94, 0.935, 0.93, 0.93, 0.925, 0.92, 0.915, 0.91, 0.905,
  0.905, 0.9, 0.895, 0.89, 0.885, 0.88, 0.875, 0.87, 0.865, 0.865,
  0.862, 0.862, 0.86, 0.86, 0.86, 0.855, 0.85, 0.845, 0.84, 0.84,
  0.835, 0.83, 0.83, 0.82, 0.81, 0.81, 0.805, 0.805, 0.8, 0.8,
  0.805, 0.8, 0.795, 0.79, 0.785, 0.795, 0.79, 0.78, 0.775, 0.77,
  0.77, 0.76, 0.755, 0.75, 0.745, 0.735, 0.72, 0.72, 0.715, 0.71,
  0.705, 0.7, 0.685, 0.68, 0.68, 0.675, 0.675, 0.67, 0.66, 0.65,
  0.64, 0.625, 0.61, 0.6, 0.585, 0.565, 0.555, 0.55, 0.535, 0.525,
  0.505, 0.5, 0.52, 0.52, 0.495, 0.455, 0.42, 0.345, 0.38, 0.35,
]

const berlinChi = [
  1, 0.99, 0.985, 0.975, 0.965, 0.955, 0.95, 0.94, 0.935, 0.925,
  0.92, 0.915, 0.91, 0.9, 0.895, 0.885, 0.875, 0.865, 0.855, 0.85,
  0.845, 0.84, 0.835, 0.825, 0.82, 0.81, 0.8, 0.79, 0.775, 0.77,
  0.77, 0.76, 0.755, 0.75, 0.745, 0.735, 0.725, 0.725, 0.72, 0.715,
  0.71, 0.705, 0.7, 0.695, 0.69, 0.685, 0.675, 0.665, 0.655, 0.655,
  0.655, 0.65, 0.64, 0.635, 0.63, 0.63, 0.625, 0.62, 0.61, 0.61,
  0.605, 0.59, 0.58, 0.57, 0.56, 0.55, 0.545, 0.535, 0.53, 0.52,
  0.515, 0.505, 0.495, 0.49, 0.48, 0.465, 0.45, 0.45, 0.45, 0.445,
  0.43, 0.41, 0.39, 0.375, 0.365, 0.355, 0.345, 0.335, 0.335, 0.3,
  0.275, 0.27, 0.26, 0.25, 0.22, 0.175, 0.165, 0.15, 0.13, 0.05,
]

const parisChi = [
  1, 0.995, 0.99, 0.98, 0.975, 0.97, 0.965, 0.955, 0.95, 0.945,
  0.94, 0.93, 0.92, 0.92, 0.92, 0.91, 0.905, 0.9, 0.895, 0.895,
  0.895, 0.89, 0.89, 0.885, 0.88, 0.875, 0.875, 0.88, 0.87, 0.865,
  0.86, 0.855, 0.85, 0.85, 0.845, 0.845, 0.85, 0.84, 0.835, 0.825,
  0.82, 0.815, 0.815, 0.81, 0.805, 0.8, 0.795, 0.79, 0.785, 0.785,
  0.79, 0.78, 0.77, 0.76, 0.755, 0.75, 0.75, 0.745, 0.745, 0.74,
  0.735, 0.73, 0.725, 0.72, 0.72, 0.72, 0.72, 0.715, 0.71, 0.695,
  0.685, 0.68, 0.675, 0.665, 0.665, 0.66, 0.675, 0.675, 0.65, 0.63,
  0.615, 0.615, 0.62, 0.62, 0.6, 0.57, 0.54, 0.52, 0.515, 0.475,
  0.44, 0.435, 0.43, 0.455, 0.415, 0.41, 0.415, 0.405, 0.305, 0.19,
]

const scatterColumns = [
  [...amsterdamColumns, ...amsterdamExtra],
  [...berlinColumns, ...berlinExtra],
  [...parisColumns, ...parisExtra],
]
const chiSeries = [amsterdamChi, berlinChi, parisChi]

// layout, one entry per panel
const boxLefts = [118.5, 513.3, 908.7]
const boxWidth = 276.4
const titleX = [259.5, 655.5, 1046]
const bigUX = [245.6, 643.6, 1037]
const vTip = [[65, 183], [463, 183], [862, 178.5]]
const chiBaseX = [58, 458, 853]
const smallUX = [259, 651.5, 1053]
const smallUBaseline = [763, 757, 757]

const tickFont = '"Liberation Sans", Arial, sans-serif'

function drawFrame(g: any, x: any, y: any, top: number, height: number) {
  g.append('rect')
    .attr('x', 0)
    .attr('y', top)
    .attr('width', boxWidth)
    .attr('height', height)
    .attr('fill', 'none')
    .attr('stroke', '#000')
    .attr('stroke-width', 1.4)

  const xAxis = g
    .append('g')
    .attr('transform', `translate(0,${top + height})`)
    .call(d3.axisBottom(x).tickValues(tickValues).tickFormat(d3.format('.1f')).tickSize(11.7).tickSizeOuter(0))
  const yAxis = g
    .append('g')
    .call(d3.axisLeft(y).tickValues(tickValues).tickFormat(d3.format('.1f')).tickSize(11.7).tickSizeOuter(0))

  g.selectAll('.domain').attr('stroke', '#000').attr('stroke-width', 1.4)
  g.selectAll('.tick line').attr('stroke', '#000').attr('stroke-width', 1.3)

  xAxis
    .selectAll('text')
    .attr('y', 43.5)
    .attr('dy', 0)
    .attr('font-size', 19.2)
    .attr('font-family', tickFont)
    .attr('fill', '#222')
  yAxis
    .selectAll('text')
    .attr('transform', 'rotate(-90)')
    .attr('x', 0)
    .attr('y', -28)
    .attr('dy', 0)
    .attr('text-anchor', 'middle')
    .attr('font-size', 19.2)
    .attr('font-family', tickFont)
    .attr('fill', '#222')
}

export default function App() {
  const ref = React.useRef<SVGSVGElement>(null)

  React.useEffect(() => {
    const svg = d3.select(ref.current)
    svg.selectAll('*').remove()

    const yTop = d3.scaleLinear().domain([0, 1]).range([298.7, 73.3])
    const yBottom = d3.scaleLinear().domain([0, 1]).range([661.3, 435.7])

    titles.forEach((title, i) => {
      const g = svg.append('g').attr('transform', `translate(${boxLefts[i]},0)`)
      const x = d3.scaleLinear().domain([0, 1]).range([10.3, 266.6])

      const points = scatterColumns[i].flatMap(([u, vs]) => vs.map((v) => [u / 100, v / 100]))
      g.append('g')
        .selectAll('circle')
        .data(points)
        .enter()
        .append('circle')
        .attr('cx', (d) => x(d[0]))
        .attr('cy', (d) => yTop(d[1]))
        .attr('r', 1.9)
        .attr('fill', '#000')
      drawFrame(g, x, yTop, 64, 243.7)

      g.append('g')
        .selectAll('circle')
        .data(chiSeries[i])
        .enter()
        .append('circle')
        .attr('cx', (d, j) => x(chiU[j]))
        .attr('cy', (d) => yBottom(d))
        .attr('r', 5.4)
        .attr('fill', '#000')
      drawFrame(g, x, yBottom, 426, 244.7)

      svg
        .append('text')
        .attr('x', titleX[i])
        .attr('y', 41)
        .attr('text-anchor', 'middle')
        .attr('font-family', 'Lato, sans-serif')
        .attr('font-weight', 300)
        .attr('font-size', 40)
        .attr('letter-spacing', 1.5)
        .attr('fill', '#888')
        .text(title)

      svg
        .append('text')
        .attr('x', bigUX[i])
        .attr('y', 384.5)
        .attr('text-anchor', 'middle')
        .attr('font-family', tickFont)
        .attr('font-size', 38)
        .attr('fill', '#000')
        .text('U')

      svg
        .append('text')
        .attr('transform', `translate(${vTip[i][0]},${vTip[i][1]}) rotate(-90)`)
        .attr('text-anchor', 'middle')
        .attr('font-family', tickFont)
        .attr('font-size', 40)
        .attr('fill', '#000')
        .text('V')

      const chiLabel = svg
        .append('text')
        .attr('transform', `translate(${chiBaseX[i]},583) rotate(-90)`)
        .attr('font-family', tickFont)
        .attr('font-size', 56)
        .attr('fill', '#000')
      chiLabel.append('tspan').attr('font-family', '"Liberation Serif", serif').attr('font-style', 'italic').text('χ')
      chiLabel.append('tspan').text('(u)')

      svg
        .append('text')
        .attr('x', smallUX[i])
        .attr('y', smallUBaseline[i])
        .attr('text-anchor', 'middle')
        .attr('font-family', tickFont)
        .attr('font-size', 51)
        .attr('fill', '#000')
        .text('u')
    })
  }, [])

  return (
    <svg
      ref={ref}
      width={1190}
      height={764}
      style={{ position: 'absolute', left: 0, top: 0, display: 'block', background: '#fff' }}
    />
  )
}
